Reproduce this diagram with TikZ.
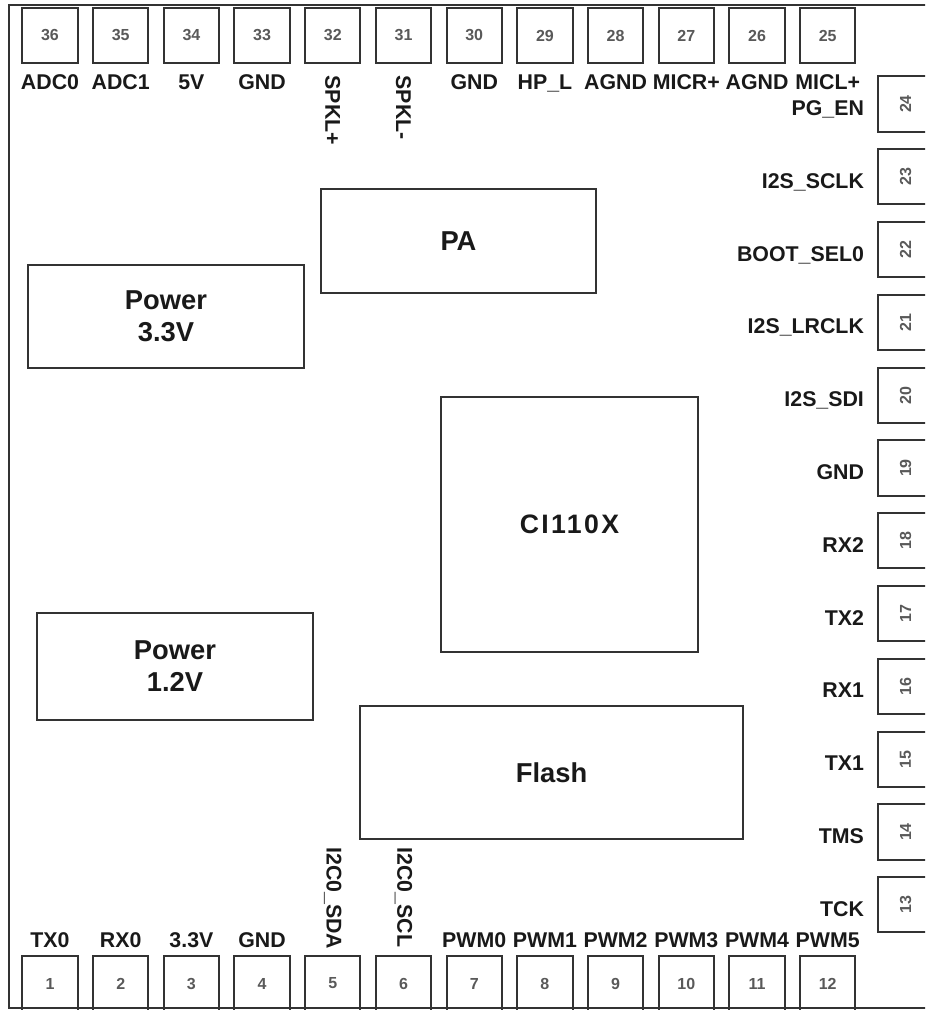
\documentclass[tikz,border=0pt]{standalone}
\usepackage{fontspec}
\setmainfont{Liberation Sans}
\newfontfamily\chipfont[LetterSpace=9]{Liberation Sans}
\usetikzlibrary{positioning}

\begin{document}
\begin{tikzpicture}[
  x=0.75pt, y=-0.75pt,
  edge/.style={draw=black!80, line width=1.5pt},
  pad/.style={edge, minimum size=41.5pt, inner sep=0pt,
              font=\fontsize{12}{12}\selectfont\bfseries, text=black!65},
  lab/.style={font=\fontsize{16}{18}\selectfont\bfseries, inner sep=0pt, text=black!90},
  rlab/.style={lab, text depth=0pt},
  vlab/.style={lab, rotate=-90},
  blk/.style={edge, inner sep=0pt, align=center,
              font=\fontsize{20.5}{24}\selectfont\bfseries, text=black!90},
]
\useasboundingbox (0,0) rectangle (925,1010);
\clip (0,0) rectangle (925,1010);

% ============ helper coordinates ============
\def\ytop{35.5}  % top pin row
\def\ybot{983.5} % bottom pin row
\def\xr{905.5}   % right pin column

% ============ board outline ============
\draw[edge] (935,5) -- (9,5) -- (9,1008) -- (935,1008);

% ===================== top row: 36 ... 25 =====================
\foreach \n/\txt in {36/ADC0,35/ADC1,34/5V,33/GND,30/GND,29/HP\_L,28/AGND,27/MICR+,26/AGND,25/MICL+}{
  \node[pad] (p\n) at ({50+(36-\n)*70.7},\ytop) {\n};
  \node[lab, below=8pt of p\n] (l\n) {\txt};
}
\node[pad] (p32) at ({50+4*70.7},\ytop) {32};
\node[pad] (p31) at ({50+5*70.7},\ytop) {31};
\node[vlab, anchor=west] (l32) at ([yshift=-8.5pt]p32.south) {SPKL+};
\node[vlab, anchor=west] (l31) at ([yshift=-8.5pt]p31.south) {SPKL-};

% ===================== right column: 24 ... 13 =====================
\foreach \n/\txt in {24/PG\_EN,23/I2S\_SCLK,22/BOOT\_SEL0,21/I2S\_LRCLK,20/I2S\_SDI,19/GND,
                     18/RX2,17/TX2,16/RX1,15/TX1,14/TMS,13/TCK}{
  \node[pad] (p\n) at (\xr,{104+(24-\n)*72.8}) {\rotatebox{90}{\n}};
  \node[rlab, left=9.5pt of p\n, yshift=-3pt] (l\n) {\txt};
}

% ===================== bottom row: 1 ... 12 =====================
\foreach \n/\txt in {1/TX0,2/RX0,3/3.3V,4/GND,7/PWM0,8/PWM1,9/PWM2,10/PWM3,11/PWM4,12/PWM5}{
  \node[pad] (p\n) at ({50+(\n-1)*70.7},\ybot) {\n};
  \node[lab, above=5pt of p\n] (l\n) {\txt};
}
\node[pad] (p5) at ({50+4*70.7},\ybot) {5};
\node[pad] (p6) at ({50+5*70.7},\ybot) {6};
\node[vlab, anchor=east] (l5) at ([yshift=4pt]p5.north) {I2C0\_SDA};
\node[vlab, anchor=east] (l6) at ([yshift=5.5pt]p6.north) {I2C0\_SCL};

% ===================== on-board blocks =====================
\node[blk, minimum width=206.25pt, minimum height=78pt] (pa) at (458.5,241) {PA};
\node[blk, minimum width=207pt, minimum height=77.25pt] (pw33) at (166,316.5) {Power\\3.3V};
\node[blk, minimum width=192.75pt, minimum height=191.25pt,
      font=\fontsize{20}{22}\chipfont\bfseries] (chip) at (569.5,524.5) {CI110X};
\node[blk, minimum width=207pt, minimum height=80.25pt] (pw12) at (175,666.5) {Power\\1.2V};
\node[blk, minimum width=287.25pt, minimum height=99.75pt] (flash) at (551.5,772.5) {Flash};

\end{tikzpicture}
\end{document}
